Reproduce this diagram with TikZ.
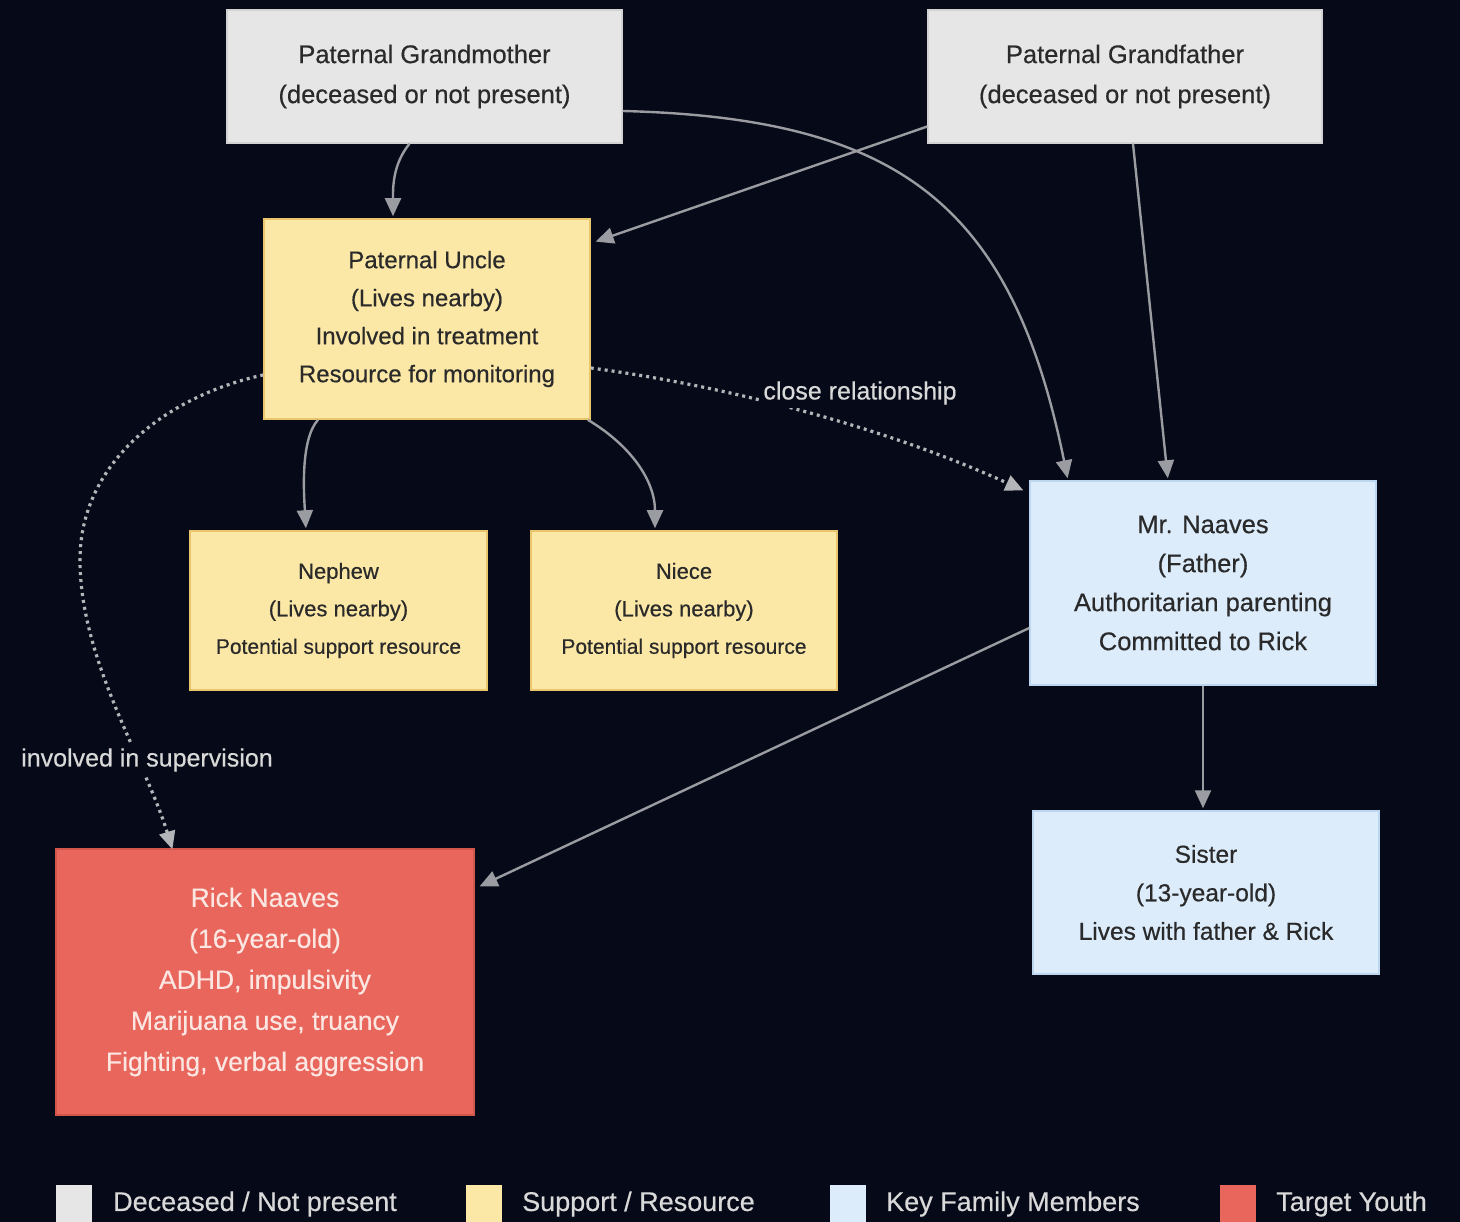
\documentclass[tikz,border=0pt]{standalone}
\usepackage{fontspec}
\setmainfont{Liberation Sans}[FakeBold=0.45]
\usetikzlibrary{arrows.meta}
\definecolor{bgc}{HTML}{060A18}
\definecolor{grayfill}{HTML}{E6E6E6}
\definecolor{grayline}{HTML}{D2D2D2}
\definecolor{yelfill}{HTML}{FCE8A6}
\definecolor{yelline}{HTML}{E9C56C}
\definecolor{bluefill}{HTML}{DCECFB}
\definecolor{blueline}{HTML}{BCD6EF}
\definecolor{redfill}{HTML}{E8665C}
\definecolor{redline}{HTML}{D2564C}
\definecolor{ink}{HTML}{2A2A2A}
\definecolor{redink}{HTML}{FBE6E2}
\definecolor{wire}{HTML}{9A9CA1}
\definecolor{dotwire}{HTML}{B4B5B8}
\definecolor{legendink}{HTML}{D9D9D9}
\newcommand\fz[2]{\fontsize{#1}{#2}\selectfont}
\tikzset{
  box/.style={rectangle, line width=1.5pt, align=center, inner sep=0pt, text=ink},
  deadbox/.style={box, fill=grayfill, draw=grayline},
  supportbox/.style={box, fill=yelfill, draw=yelline},
  keybox/.style={box, fill=bluefill, draw=blueline},
  youthbox/.style={box, fill=redfill, draw=redline, text=redink},
  conn/.style={draw=wire, line width=2.4pt, shorten >=2pt, -{Triangle[length=18pt,width=16pt]}, color=wire},
  dotconn/.style={conn, color=dotwire, line width=3.2pt, dash pattern=on 3pt off 4pt},
  edgelabel/.style={fill=bgc, text=legendink, inner sep=3pt, font=\fz{25}{30}},
  swatch/.style={rectangle, minimum width=36pt, minimum height=38pt, inner sep=0pt},
  legendtext/.style={anchor=west, text=legendink, font=\fz{27}{32}, inner sep=0pt}
}
\begin{document}
\begin{tikzpicture}[x=1pt, y=-1pt]
\fill[bgc] (0,0) rectangle (1460,1222);
\useasboundingbox (0,0) rectangle (1460,1222);

% family members
\node[deadbox, minimum width=395pt, minimum height=133pt, font=\fz{25.5}{40}] (gm) at (424.5,76.5)
  {Paternal Grandmother\\(deceased or not present)};
\node[deadbox, minimum width=394pt, minimum height=133pt, font=\fz{25.5}{40}] (gf) at (1125,76.5)
  {Paternal Grandfather\\(deceased or not present)};
\node[supportbox, minimum width=326pt, minimum height=200pt, font=\fz{24}{38}] (uncle) at (427,319)
  {Paternal Uncle\\(Lives nearby)\\Involved in treatment\\Resource for monitoring};
\node[supportbox, minimum width=297pt, minimum height=159pt, font=\fz{22}{37.5}] (nephew) at (338.5,610.5)
  {Nephew\\(Lives nearby)\\{\fz{21}{37.5}Potential support resource}};
\node[supportbox, minimum width=306pt, minimum height=159pt, font=\fz{22}{37.5}] (niece) at (684,610.5)
  {Niece\\(Lives nearby)\\{\fz{21}{37.5}Potential support resource}};
\node[keybox, minimum width=346pt, minimum height=204pt, font=\fz{25.5}{39}] (father) at (1203,583)
  {Mr. Naaves\\(Father)\\Authoritarian parenting\\Committed to Rick};
\node[keybox, minimum width=346pt, minimum height=163pt, font=\fz{24.5}{38.5}] (sister) at (1206,892.5)
  {Sister\\(13-year-old)\\Lives with father \& Rick};
\node[youthbox, minimum width=418pt, minimum height=266pt, font=\fz{26.5}{41}] (rick) at (265,982)
  {Rick Naaves\\(16-year-old)\\ADHD, impulsivity\\Marijuana use, truancy\\Fighting, verbal aggression};

% solid relations
\draw[conn] ([xshift=-15pt]gm.south) .. controls (392,165) and (393,190) .. ([xshift=-34pt]uncle.north);
\draw[conn] ([yshift=-34.5pt]gm.east) .. controls (900,118) and (1012,205) .. ([xshift=-135pt]father.north);
\draw[conn] ([yshift=-50pt]gf.west) -- ([xshift=3pt,yshift=-24pt]uncle.north east);
\draw[conn] ([xshift=8pt]gf.south) -- ([xshift=-35pt]father.north);
\draw[conn] ([xshift=-109pt]uncle.south) .. controls (300,440) and (304,495) .. ([xshift=-32.5pt]nephew.north);
\draw[conn] ([xshift=-3pt]uncle.south east) .. controls (630,445) and (655,480) .. ([xshift=-29pt]niece.north);
\draw[conn] ([yshift=-45pt]father.west) -- ([yshift=-39pt,xshift=3pt]rick.north east);
\draw[conn] (father.south) -- (father.south |- sister.north);

% dotted relations
\draw[dotconn] ([yshift=-49pt]uncle.east) .. controls (720,385) and (880,425) .. ([xshift=-4pt,yshift=-11pt]father.north west);
\node[edgelabel] (closelbl) at (860,393) {close relationship};
\draw[dotconn] ([yshift=-56pt]uncle.west) .. controls (170,395) and (80,460) .. (80,560)
  .. controls (80,660) and (145,760) .. ([xshift=-92pt,yshift=-3pt]rick.north);
\node[edgelabel] (supvlbl) at (147,760) {involved in supervision};

% legend
\node[swatch, fill=grayfill] (lg1) at (74,1204) {};
\node[legendtext] (lt1) at (113,1204) {Deceased / Not present};
\node[swatch, fill=yelfill] (lg2) at (484,1204) {};
\node[legendtext] (lt2) at (522,1204) {Support / Resource};
\node[swatch, fill=bluefill] (lg3) at (848,1204) {};
\node[legendtext] (lt3) at (886,1204) {Key Family Members};
\node[swatch, fill=redfill] (lg4) at (1238,1204) {};
\node[legendtext] (lt4) at (1276,1204) {Target Youth};
\end{tikzpicture}
\end{document}
